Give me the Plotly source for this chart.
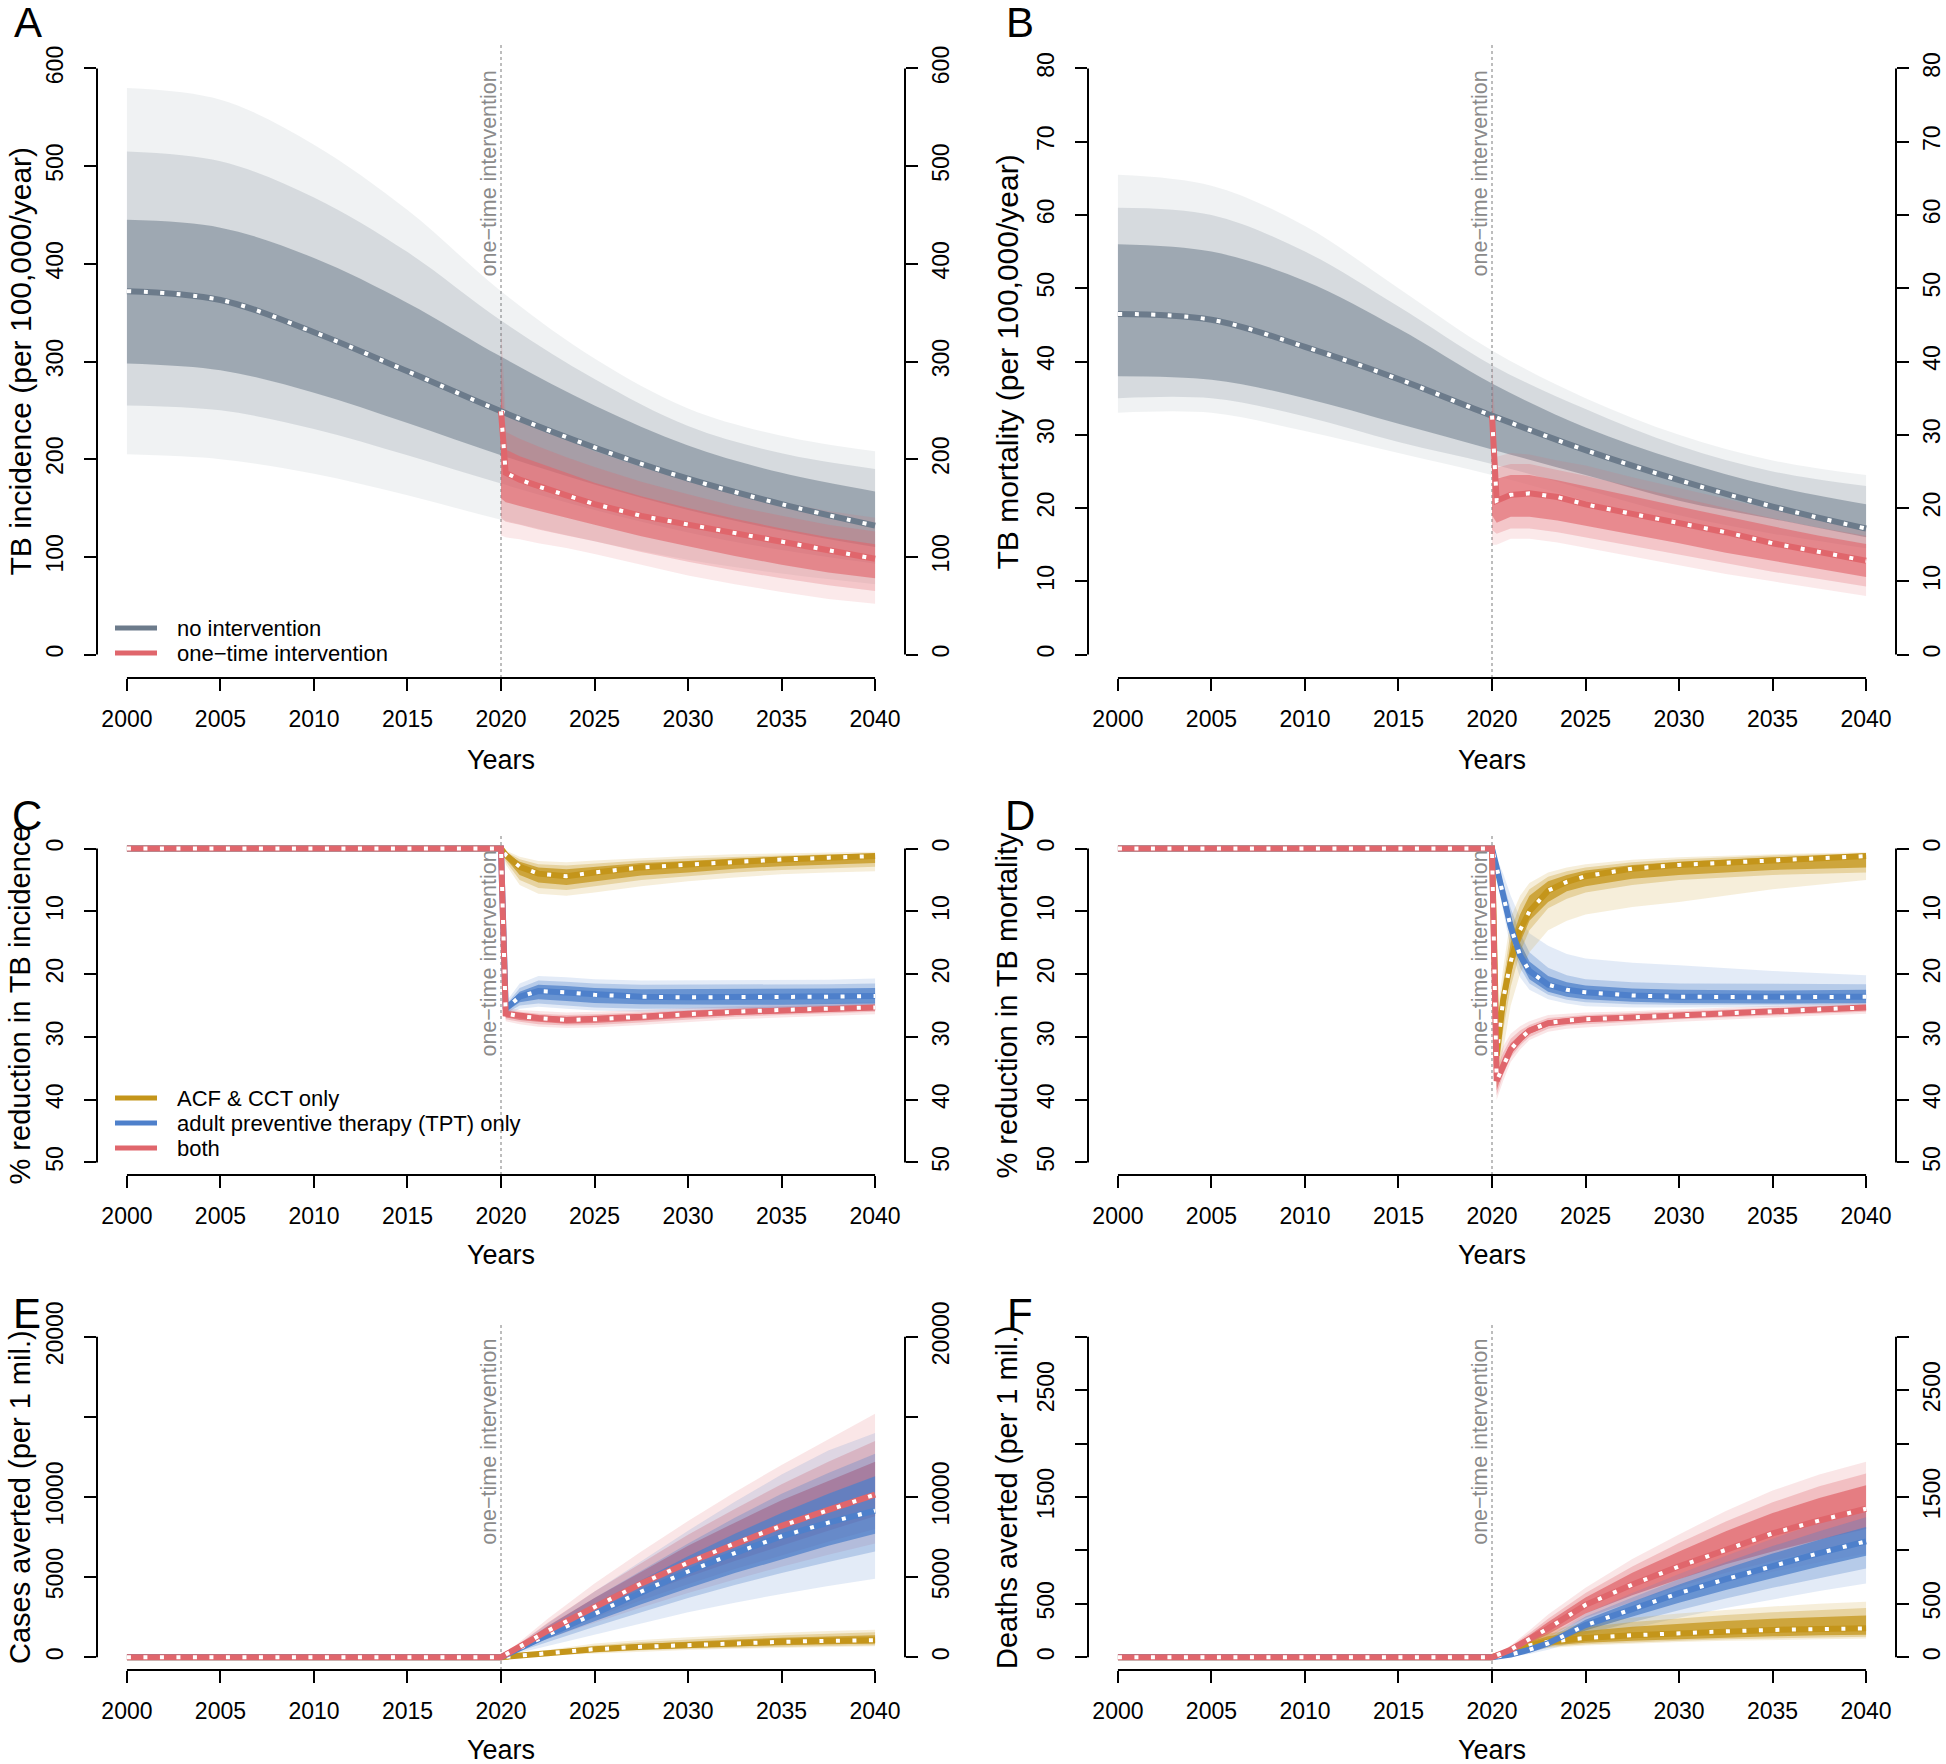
import plotly.graph_objects as go

# ====================== data ======================
X_TICKS = [2000, 2005, 2010, 2015, 2020, 2025, 2030, 2035, 2040]
INTERVENTION_YEAR = 2020
PRE_YEARS = [2000]          # reductions / averted are 0 before the intervention
PRE_VALUES = [0]

# ---------- Panel A: TB incidence (per 100,000/year)
A_BASE_YEARS = [2000, 2005, 2010, 2015, 2020, 2025, 2030, 2035, 2040]
A_BASE_MED = [372, 363, 330, 290, 249, 212, 180, 154, 132]
A_BASE_OUT_LO = [205, 200, 185, 163, 138, 116, 97, 83, 72]
A_BASE_OUT_HI = [580, 568, 522, 455, 372, 303, 252, 224, 208]
A_BASE_MID_LO = [255, 250, 231, 204, 175, 148, 125, 107, 93]
A_BASE_MID_HI = [515, 505, 468, 412, 342, 282, 234, 206, 190]
A_BASE_CORE_LO = [298, 291, 268, 237, 204, 174, 148, 127, 110]
A_BASE_CORE_HI = [445, 437, 406, 360, 305, 255, 214, 186, 167]

A_INT_YEARS = [2020, 2020.25, 2021, 2022, 2023.5, 2025, 2027.5, 2030, 2032.5, 2035, 2037.5, 2040]
A_INT_MED = [249, 186, 179, 172, 163, 154, 142, 133, 124, 115, 106, 98]
A_INT_OUT_LO = [122, 120, 118, 114, 109, 103, 92, 81, 72, 64, 57, 52]
A_INT_OUT_HI = [335, 248, 240, 232, 220, 208, 192, 178, 166, 156, 147, 140]
A_INT_MID_LO = [140, 136, 133, 128, 122, 116, 105, 95, 86, 78, 71, 65]
A_INT_MID_HI = [300, 228, 221, 213, 202, 192, 177, 164, 152, 142, 133, 126]
A_INT_CORE_LO = [160, 156, 152, 147, 140, 133, 121, 111, 101, 92, 84, 78]
A_INT_CORE_HI = [270, 210, 203, 196, 186, 176, 162, 150, 139, 129, 120, 113]

# ---------- Panel B: TB mortality (per 100,000/year)
B_BASE_YEARS = [2000, 2005, 2010, 2015, 2020, 2025, 2030, 2035, 2040]
B_BASE_MED = [46.5, 45.7, 42.0, 37.6, 32.6, 27.9, 23.8, 20.2, 17.2]
B_BASE_OUT_LO = [33, 33, 30.5, 27.5, 24.5, 21, 17.5, 15, 13]
B_BASE_OUT_HI = [65.5, 64, 58.5, 50, 41.5, 35, 30, 26.5, 24.5]
B_BASE_MID_LO = [35, 35, 32.5, 29, 26, 22.5, 19, 16.5, 14.5]
B_BASE_MID_HI = [61, 60, 55, 47.5, 39.5, 33.5, 28.5, 25, 23]
B_BASE_CORE_LO = [38, 37.5, 35, 31.5, 28, 24.5, 21, 18.5, 16]
B_BASE_CORE_HI = [56, 55, 51, 44.5, 37, 31, 26.5, 23, 20.5]

B_INT_YEARS = [2020, 2020.25, 2021, 2022, 2023.5, 2025, 2027.5, 2030, 2032.5, 2035, 2037.5, 2040]
B_INT_MED = [32.6, 21.0, 21.8, 22.0, 21.5, 20.5, 19.2, 18.0, 16.7, 15.2, 14.0, 12.8]
B_INT_OUT_LO = [15, 15, 15.8, 15.8, 15.3, 14.6, 13.4, 12.2, 11.0, 10.0, 9.0, 8.0]
B_INT_OUT_HI = [40.5, 27, 27.5, 27.3, 26.5, 25.8, 24.2, 22.7, 21.2, 19.8, 18.5, 17.5]
B_INT_MID_LO = [17, 16.5, 17.2, 17.2, 16.7, 16.0, 14.8, 13.6, 12.4, 11.3, 10.3, 9.3]
B_INT_MID_HI = [36, 25.5, 26, 26, 25.2, 24.4, 22.9, 21.4, 20.0, 18.6, 17.3, 16.2]
B_INT_CORE_LO = [19, 18.0, 18.8, 18.8, 18.3, 17.6, 16.4, 15.2, 13.9, 12.8, 11.7, 10.6]
B_INT_CORE_HI = [33, 24, 24.5, 24.5, 23.8, 23.0, 21.6, 20.2, 18.8, 17.5, 16.2, 15.1]

# ---------- Panel C: % reduction in TB incidence
C_YEARS = [2020, 2020.25, 2021, 2022, 2023.5, 2025, 2027.5, 2030, 2032.5, 2035, 2037.5, 2040]
C_ACF_MED = [0, 1.0, 2.9, 4.0, 4.4, 3.8, 3.0, 2.55, 2.1, 1.75, 1.45, 1.2]
C_ACF_OUT_LO = [0, 0.3, 1.3, 2.0, 2.2, 1.9, 1.5, 1.2, 0.9, 0.8, 0.6, 0.5]
C_ACF_OUT_HI = [0, 2.5, 5.8, 7.2, 7.5, 7.0, 6.0, 5.2, 4.6, 4.1, 3.8, 3.6]
C_ACF_MID_LO = [0, 0.5, 1.7, 2.5, 2.7, 2.4, 1.9, 1.6, 1.3, 1.1, 0.9, 0.8]
C_ACF_MID_HI = [0, 2.0, 5.0, 6.3, 6.6, 6.0, 5.0, 4.4, 3.8, 3.4, 3.1, 2.9]
C_ACF_CORE_LO = [0, 0.7, 2.1, 3.0, 3.3, 2.9, 2.3, 2.0, 1.6, 1.35, 1.1, 0.95]
C_ACF_CORE_HI = [0, 1.6, 4.2, 5.4, 5.8, 5.2, 4.3, 3.8, 3.2, 2.8, 2.5, 2.3]

C_TPT_MED = [0, 25.5, 23.6, 22.7, 22.9, 23.3, 23.6, 23.7, 23.7, 23.7, 23.6, 23.5]
C_TPT_OUT_LO = [0, 24.5, 21.5, 20.3, 20.5, 20.8, 21.0, 21.0, 21.0, 21.0, 20.9, 20.7]
C_TPT_OUT_HI = [0, 26.8, 25.5, 25.2, 25.5, 25.8, 26.0, 26.0, 26.0, 26.0, 25.9, 25.8]
C_TPT_MID_LO = [0, 25.0, 22.2, 21.0, 21.2, 21.5, 21.7, 21.7, 21.7, 21.7, 21.6, 21.5]
C_TPT_MID_HI = [0, 26.3, 25.0, 24.7, 25.0, 25.3, 25.5, 25.5, 25.5, 25.5, 25.4, 25.3]
C_TPT_CORE_LO = [0, 25.2, 22.8, 21.7, 21.9, 22.2, 22.4, 22.4, 22.4, 22.4, 22.3, 22.2]
C_TPT_CORE_HI = [0, 26.0, 24.5, 24.0, 24.3, 24.6, 24.8, 24.9, 24.9, 24.9, 24.8, 24.7]

C_BOTH_MED = [0, 26.3, 26.7, 27.0, 27.3, 27.2, 26.8, 26.3, 26.0, 25.7, 25.5, 25.3]
C_BOTH_OUT_LO = [0, 25.3, 25.7, 25.9, 26.1, 26.0, 25.7, 25.3, 25.0, 24.8, 24.6, 24.4]
C_BOTH_OUT_HI = [0, 27.5, 28.0, 28.4, 28.6, 28.5, 28.1, 27.6, 27.2, 26.9, 26.6, 26.4]
C_BOTH_MID_LO = [0, 25.6, 26.0, 26.3, 26.5, 26.4, 26.1, 25.7, 25.4, 25.1, 24.9, 24.7]
C_BOTH_MID_HI = [0, 27.2, 27.6, 28.0, 28.2, 28.1, 27.7, 27.2, 26.8, 26.5, 26.2, 26.0]
C_BOTH_CORE_LO = [0, 25.9, 26.3, 26.6, 26.8, 26.7, 26.4, 26.0, 25.7, 25.4, 25.2, 25.0]
C_BOTH_CORE_HI = [0, 26.9, 27.3, 27.6, 27.9, 27.8, 27.4, 26.9, 26.5, 26.2, 25.9, 25.7]

# ---------- Panel D: % reduction in TB mortality
D_YEARS = [2020, 2020.25, 2020.6, 2021, 2021.5, 2022, 2023, 2024, 2025, 2027.5, 2030, 2035, 2040]
D_ACF_MED = [0, 33, 24, 18, 13, 10, 6.7, 5.3, 4.4, 3.2, 2.6, 1.9, 1.2]
D_ACF_OUT_LO = [0, 27, 19, 11, 7.5, 5.5, 3.8, 3.0, 2.5, 1.8, 1.4, 0.9, 0.6]
D_ACF_OUT_HI = [0, 38, 32, 25, 20, 16.5, 13, 11.5, 10.5, 9.3, 8.5, 6.5, 5.0]
D_ACF_MID_LO = [0, 29, 21, 13, 9, 6.5, 4.5, 3.6, 3.0, 2.2, 1.7, 1.1, 0.8]
D_ACF_MID_HI = [0, 37, 29, 22, 16.5, 13, 9.5, 8, 7, 5.8, 5.0, 4.2, 3.8]
D_ACF_CORE_LO = [0, 31, 22.5, 15, 10.5, 7.5, 5.2, 4.2, 3.5, 2.6, 2.1, 1.4, 1.0]
D_ACF_CORE_HI = [0, 36, 27, 20, 15, 11.5, 8.5, 6.8, 6.0, 4.8, 4.2, 3.4, 3.0]

D_TPT_MED = [0, 3.0, 7.5, 12.5, 17, 19.5, 21.7, 22.5, 22.9, 23.4, 23.6, 23.7, 23.6]
D_TPT_OUT_LO = [0, 1.5, 4, 7.5, 11, 13.5, 15.5, 16.8, 17.5, 18.2, 18.6, 19.5, 20.2]
D_TPT_OUT_HI = [0, 4.5, 10, 16, 20.5, 22.5, 24.0, 24.7, 25.1, 25.3, 25.3, 25.3, 25.2]
D_TPT_MID_LO = [0, 2, 5.5, 9.5, 13.5, 16.5, 19, 20.2, 20.8, 21.3, 21.5, 21.6, 21.6]
D_TPT_MID_HI = [0, 4, 9, 14.5, 19, 21.5, 23.3, 24.1, 24.5, 24.8, 24.9, 24.9, 24.8]
D_TPT_CORE_LO = [0, 2.5, 6.5, 11, 15, 18, 20.3, 21.3, 21.8, 22.3, 22.5, 22.6, 22.5]
D_TPT_CORE_HI = [0, 3.5, 8.5, 13.5, 18, 20.8, 22.8, 23.6, 24.0, 24.4, 24.6, 24.7, 24.6]

D_BOTH_MED = [0, 37, 34.5, 32, 30.3, 29.0, 27.8, 27.4, 27.2, 26.9, 26.6, 25.9, 25.3]
D_BOTH_OUT_LO = [0, 34, 31.5, 29.5, 28.3, 27.5, 26.5, 26.3, 26.1, 25.9, 25.6, 25.0, 24.5]
D_BOTH_OUT_HI = [0, 40, 37, 34, 32, 30.5, 29.2, 28.7, 28.5, 28.0, 27.6, 26.9, 26.3]
D_BOTH_MID_LO = [0, 35, 32.5, 30.3, 29, 28.1, 27.0, 26.7, 26.5, 26.2, 25.9, 25.3, 24.8]
D_BOTH_MID_HI = [0, 39.3, 36, 33.3, 31.4, 30, 28.7, 28.2, 28.0, 27.6, 27.2, 26.6, 26.0]
D_BOTH_CORE_LO = [0, 35.8, 33.3, 31, 29.6, 28.5, 27.4, 27.0, 26.8, 26.5, 26.2, 25.6, 25.0]
D_BOTH_CORE_HI = [0, 38.5, 35.3, 32.8, 31.0, 29.5, 28.3, 27.8, 27.6, 27.3, 26.9, 26.3, 25.7]

# ---------- Panel E: cases averted (per 1 mil.)
E_YEARS = [2020, 2022.5, 2025, 2027.5, 2030, 2032.5, 2035, 2037.5, 2040]
E_ACF_MED = [0, 250, 500, 650, 770, 880, 960, 1020, 1060]
E_ACF_OUT_LO = [0, 110, 250, 360, 450, 520, 580, 630, 680]
E_ACF_OUT_HI = [0, 450, 850, 1080, 1250, 1400, 1530, 1640, 1720]
E_ACF_MID_LO = [0, 150, 310, 430, 520, 590, 650, 700, 750]
E_ACF_MID_HI = [0, 380, 730, 950, 1110, 1250, 1370, 1470, 1550]
E_ACF_CORE_LO = [0, 190, 380, 500, 600, 680, 750, 810, 860]
E_ACF_CORE_HI = [0, 320, 640, 830, 980, 1110, 1210, 1300, 1370]

E_TPT_MED = [0, 1400, 2700, 4100, 5350, 6500, 7550, 8400, 9150]
E_TPT_OUT_LO = [0, 700, 1400, 2100, 2800, 3400, 3950, 4450, 4900]
E_TPT_OUT_HI = [0, 2100, 4100, 6000, 7900, 9700, 11400, 12900, 14000]
E_TPT_MID_LO = [0, 950, 1900, 2800, 3700, 4500, 5250, 5950, 6600]
E_TPT_MID_HI = [0, 1900, 3700, 5400, 7100, 8700, 10200, 11500, 12700]
E_TPT_CORE_LO = [0, 1150, 2250, 3300, 4300, 5250, 6100, 6950, 7700]
E_TPT_CORE_HI = [0, 1700, 3300, 4800, 6300, 7700, 9000, 10200, 11300]

E_BOTH_MED = [0, 1650, 3150, 4600, 5900, 7100, 8200, 9200, 10150]
E_BOTH_OUT_LO = [0, 1150, 2150, 3100, 4000, 4850, 5650, 6400, 7100]
E_BOTH_OUT_HI = [0, 2400, 4600, 6600, 8500, 10300, 12000, 13600, 15200]
E_BOTH_MID_LO = [0, 1300, 2450, 3550, 4550, 5500, 6350, 7200, 8000]
E_BOTH_MID_HI = [0, 2150, 4100, 5900, 7650, 9250, 10800, 12200, 13500]
E_BOTH_CORE_LO = [0, 1450, 2700, 3900, 5000, 6000, 6950, 7900, 8800]
E_BOTH_CORE_HI = [0, 1950, 3700, 5350, 6950, 8400, 9800, 11000, 12200]

# ---------- Panel F: deaths averted (per 1 mil.)
F_YEARS = [2020, 2021, 2022, 2023, 2025, 2027.5, 2030, 2032.5, 2035, 2037.5, 2040]
F_ACF_MED = [0, 55, 110, 145, 180, 205, 225, 242, 255, 263, 270]
F_ACF_OUT_LO = [0, 30, 60, 85, 110, 128, 142, 153, 162, 170, 176]
F_ACF_OUT_HI = [0, 100, 190, 250, 320, 370, 410, 445, 475, 500, 520]
F_ACF_MID_LO = [0, 35, 70, 98, 122, 140, 155, 167, 177, 185, 192]
F_ACF_MID_HI = [0, 85, 165, 220, 280, 330, 365, 395, 420, 440, 460]
F_ACF_CORE_LO = [0, 40, 80, 110, 135, 155, 170, 185, 195, 205, 210]
F_ACF_CORE_HI = [0, 75, 145, 195, 245, 285, 315, 340, 360, 375, 390]

F_TPT_MED = [0, 25, 70, 130, 300, 450, 600, 730, 855, 975, 1085]
F_TPT_OUT_LO = [0, 8, 30, 70, 170, 270, 370, 460, 540, 620, 690]
F_TPT_OUT_HI = [0, 45, 110, 190, 410, 600, 780, 950, 1110, 1260, 1400]
F_TPT_MID_LO = [0, 12, 42, 90, 215, 330, 440, 550, 650, 740, 830]
F_TPT_MID_HI = [0, 40, 100, 170, 380, 560, 730, 890, 1040, 1180, 1310]
F_TPT_CORE_LO = [0, 18, 55, 105, 250, 380, 510, 630, 740, 850, 950]
F_TPT_CORE_HI = [0, 35, 88, 155, 350, 520, 680, 830, 970, 1100, 1220]

F_BOTH_MED = [0, 70, 165, 270, 490, 680, 850, 1010, 1160, 1280, 1390]
F_BOTH_OUT_LO = [0, 35, 95, 165, 320, 460, 590, 700, 800, 890, 970]
F_BOTH_OUT_HI = [0, 110, 250, 400, 650, 920, 1150, 1370, 1560, 1710, 1830]
F_BOTH_MID_LO = [0, 45, 115, 190, 370, 520, 660, 790, 900, 1000, 1090]
F_BOTH_MID_HI = [0, 100, 225, 360, 600, 850, 1070, 1270, 1450, 1600, 1720]
F_BOTH_CORE_LO = [0, 55, 130, 215, 410, 580, 730, 870, 990, 1100, 1200]
F_BOTH_CORE_HI = [0, 90, 205, 330, 560, 790, 990, 1180, 1350, 1490, 1610]

# ticks / labels
A_YTICKS = [0, 100, 200, 300, 400, 500, 600]
B_YTICKS = [0, 10, 20, 30, 40, 50, 60, 70, 80]
CD_YTICKS = [0, 10, 20, 30, 40, 50]
E_YTICKS = [0, 5000, 10000, 15000, 20000]
E_YLABELS = ["0", "5000", "10000", "", "20000"]
F_YTICKS = [0, 500, 1000, 1500, 2000, 2500, 3000]
F_YLABELS = ["0", "500", "", "1500", "", "2500", ""]

LEGEND_AB = ["no intervention", "one\u2212time intervention"]
LEGEND_CD = ["ACF & CCT only", "adult preventive therapy (TPT) only", "both"]
INTERVENTION_LABEL = "one\u2212time intervention"

# ====================== styling ======================
W, H = 1946, 1764
FONT = "Liberation Sans, Arial, Helvetica, sans-serif"
GRAY = (108, 123, 139)
RED = (224, 102, 108)
BLUE = (78, 128, 203)
GOLD = (196, 149, 26)
ALPHAS_AB = {GRAY: (0.10, 0.20, 0.52), RED: (0.14, 0.26, 0.62)}
ALPHAS_CF = (0.16, 0.30, 0.74)

COL_X = [(97, 905), (1088, 1896)]
ROW_Y = [(45, 678), (836, 1175), (1324, 1670)]


def rgba(c, a):
    return f"rgba({c[0]},{c[1]},{c[2]},{a})"


def rgb(c):
    return f"rgb({c[0]},{c[1]},{c[2]})"


def group(color, years, med, bands, shape="linear", lead=True):
    return dict(color=color, years=years, med=med, bands=bands, shape=shape, lead=lead)


PANELS = [
    dict(letter="A", col=0, row=0, ylim=(0, 600), yticks=A_YTICKS, ylabels=None, rev=False,
         ytitle="TB incidence (per 100,000/year)", tsize=30,
         bands_order=[0, 1], med_order=[0, 1],
         groups=[
             group(GRAY, A_BASE_YEARS, A_BASE_MED,
                   [(A_BASE_OUT_LO, A_BASE_OUT_HI), (A_BASE_MID_LO, A_BASE_MID_HI), (A_BASE_CORE_LO, A_BASE_CORE_HI)],
                   shape="spline", lead=False),
             group(RED, A_INT_YEARS, A_INT_MED,
                   [(A_INT_OUT_LO, A_INT_OUT_HI), (A_INT_MID_LO, A_INT_MID_HI), (A_INT_CORE_LO, A_INT_CORE_HI)],
                   lead=False),
         ]),
    dict(letter="B", col=1, row=0, ylim=(0, 80), yticks=B_YTICKS, ylabels=None, rev=False,
         ytitle="TB mortality (per 100,000/year)", tsize=30,
         bands_order=[0, 1], med_order=[0, 1],
         groups=[
             group(GRAY, B_BASE_YEARS, B_BASE_MED,
                   [(B_BASE_OUT_LO, B_BASE_OUT_HI), (B_BASE_MID_LO, B_BASE_MID_HI), (B_BASE_CORE_LO, B_BASE_CORE_HI)],
                   shape="spline", lead=False),
             group(RED, B_INT_YEARS, B_INT_MED,
                   [(B_INT_OUT_LO, B_INT_OUT_HI), (B_INT_MID_LO, B_INT_MID_HI), (B_INT_CORE_LO, B_INT_CORE_HI)],
                   lead=False),
         ]),
    dict(letter="C", col=0, row=1, ylim=(0, 50), yticks=CD_YTICKS, ylabels=None, rev=True,
         ytitle="% reduction in TB incidence", tsize=29,
         bands_order=[2, 1, 0], med_order=[0, 1, 2],
         groups=[
             group(GOLD, C_YEARS, C_ACF_MED, [(C_ACF_OUT_LO, C_ACF_OUT_HI), (C_ACF_MID_LO, C_ACF_MID_HI), (C_ACF_CORE_LO, C_ACF_CORE_HI)]),
             group(BLUE, C_YEARS, C_TPT_MED, [(C_TPT_OUT_LO, C_TPT_OUT_HI), (C_TPT_MID_LO, C_TPT_MID_HI), (C_TPT_CORE_LO, C_TPT_CORE_HI)]),
             group(RED, C_YEARS, C_BOTH_MED, [(C_BOTH_OUT_LO, C_BOTH_OUT_HI), (C_BOTH_MID_LO, C_BOTH_MID_HI), (C_BOTH_CORE_LO, C_BOTH_CORE_HI)]),
         ]),
    dict(letter="D", col=1, row=1, ylim=(0, 50), yticks=CD_YTICKS, ylabels=None, rev=True,
         ytitle="% reduction in TB mortality", tsize=29,
         bands_order=[2, 1, 0], med_order=[0, 1, 2],
         groups=[
             group(GOLD, D_YEARS, D_ACF_MED, [(D_ACF_OUT_LO, D_ACF_OUT_HI), (D_ACF_MID_LO, D_ACF_MID_HI), (D_ACF_CORE_LO, D_ACF_CORE_HI)]),
             group(BLUE, D_YEARS, D_TPT_MED, [(D_TPT_OUT_LO, D_TPT_OUT_HI), (D_TPT_MID_LO, D_TPT_MID_HI), (D_TPT_CORE_LO, D_TPT_CORE_HI)]),
             group(RED, D_YEARS, D_BOTH_MED, [(D_BOTH_OUT_LO, D_BOTH_OUT_HI), (D_BOTH_MID_LO, D_BOTH_MID_HI), (D_BOTH_CORE_LO, D_BOTH_CORE_HI)]),
         ]),
    dict(letter="E", col=0, row=2, ylim=(0, 20000), yticks=E_YTICKS, ylabels=E_YLABELS, rev=False,
         ytitle="Cases averted (per 1 mil.)", tsize=29,
         bands_order=[2, 1, 0], med_order=[0, 1, 2],
         groups=[
             group(GOLD, E_YEARS, E_ACF_MED, [(E_ACF_OUT_LO, E_ACF_OUT_HI), (E_ACF_MID_LO, E_ACF_MID_HI), (E_ACF_CORE_LO, E_ACF_CORE_HI)]),
             group(BLUE, E_YEARS, E_TPT_MED, [(E_TPT_OUT_LO, E_TPT_OUT_HI), (E_TPT_MID_LO, E_TPT_MID_HI), (E_TPT_CORE_LO, E_TPT_CORE_HI)]),
             group(RED, E_YEARS, E_BOTH_MED, [(E_BOTH_OUT_LO, E_BOTH_OUT_HI), (E_BOTH_MID_LO, E_BOTH_MID_HI), (E_BOTH_CORE_LO, E_BOTH_CORE_HI)]),
         ]),
    dict(letter="F", col=1, row=2, ylim=(0, 3000), yticks=F_YTICKS, ylabels=F_YLABELS, rev=False,
         ytitle="Deaths averted (per 1 mil.)", tsize=29,
         bands_order=[2, 1, 0], med_order=[0, 1, 2],
         groups=[
             group(GOLD, F_YEARS, F_ACF_MED, [(F_ACF_OUT_LO, F_ACF_OUT_HI), (F_ACF_MID_LO, F_ACF_MID_HI), (F_ACF_CORE_LO, F_ACF_CORE_HI)]),
             group(BLUE, F_YEARS, F_TPT_MED, [(F_TPT_OUT_LO, F_TPT_OUT_HI), (F_TPT_MID_LO, F_TPT_MID_HI), (F_TPT_CORE_LO, F_TPT_CORE_HI)]),
             group(RED, F_YEARS, F_BOTH_MED, [(F_BOTH_OUT_LO, F_BOTH_OUT_HI), (F_BOTH_MID_LO, F_BOTH_MID_HI), (F_BOTH_CORE_LO, F_BOTH_CORE_HI)]),
         ]),
]

LETTER_POS = {"A": (28, 22), "B": (1020, 22), "C": (27, 815), "D": (1020, 815), "E": (27, 1313), "F": (1020, 1313)}
YTITLE_X = [20, 1007]
XTITLE_Y = [760, 1255, 1750]

fig = go.Figure()
layout = dict(width=W, height=H, autosize=False,
              margin=dict(l=0, r=0, t=0, b=0, pad=0, autoexpand=False),
              paper_bgcolor="white", plot_bgcolor="white", showlegend=False,
              font=dict(family=FONT, color="black"))
shapes, annotations = [], []


def ann(text, x, y, size, xanchor="center", yanchor="middle", angle=0, color="black"):
    return dict(text=text, x=x / W, y=1 - y / H, xref="paper", yref="paper", showarrow=False,
                font=dict(size=size, color=color, family=FONT), xanchor=xanchor, yanchor=yanchor,
                textangle=angle)


for i, p in enumerate(PANELS, start=1):
    sfx = "" if i == 1 else str(i)
    xr, yr = "x" + sfx, "y" + sfx
    x0, x1 = COL_X[p["col"]]
    y0, y1 = ROW_Y[p["row"]]
    ymin, ymax = p["ylim"]
    ext = 0.04 * (ymax - ymin)
    rng = [ymax + ext, ymin - ext] if p["rev"] else [ymin - ext, ymax + ext]
    ticktext = p["ylabels"] if p["ylabels"] else [str(v) for v in p["yticks"]]
    tickfont = dict(size=23, color="black", family=FONT)
    common_y = dict(range=rng, tickmode="array", tickvals=p["yticks"], ticktext=ticktext,
                    ticks="outside", ticklen=12, tickwidth=2, tickcolor="black",
                    showline=False, showgrid=False, zeroline=False, tickangle=-90,
                    tickfont=tickfont, fixedrange=True, automargin=False)
    layout["xaxis" + sfx] = dict(domain=[x0 / W, x1 / W], range=[1998.4, 2041.6], anchor=yr,
                                 tickmode="array", tickvals=X_TICKS, ticks="outside", ticklen=12,
                                 tickwidth=2, tickcolor="black", showline=False, showgrid=False,
                                 zeroline=False, tickfont=tickfont, ticklabelstandoff=8,
                                 fixedrange=True, automargin=False)
    layout["yaxis" + sfx] = dict(domain=[1 - y1 / H, 1 - y0 / H], anchor=xr, side="left",
                                 ticklabelstandoff=12, **common_y)
    ridx = str(i + 6)
    layout["yaxis" + ridx] = dict(overlaying=yr, anchor=xr, side="right", ticklabelstandoff=3, **common_y)

    # bands (spaghetti envelopes)
    for gi in p["bands_order"]:
        g = p["groups"][gi]
        alphas = ALPHAS_AB[g["color"]] if p["row"] == 0 else ALPHAS_CF
        for (lo, hi), a in zip(g["bands"], alphas):
            fig.add_trace(go.Scatter(x=g["years"], y=lo, mode="lines", xaxis=xr, yaxis=yr,
                                     line=dict(width=0, shape=g["shape"]), hoverinfo="skip"))
            fig.add_trace(go.Scatter(x=g["years"], y=hi, mode="lines", xaxis=xr, yaxis=yr,
                                     line=dict(width=0, shape=g["shape"]), fill="tonexty",
                                     fillcolor=rgba(g["color"], a), hoverinfo="skip"))
    # medians: coloured line with white dots on top
    for gi in p["med_order"]:
        g = p["groups"][gi]
        xs = (PRE_YEARS + g["years"]) if g["lead"] else g["years"]
        ys = (PRE_VALUES + g["med"]) if g["lead"] else g["med"]
        fig.add_trace(go.Scatter(x=xs, y=ys, mode="lines", xaxis=xr, yaxis=yr,
                                 line=dict(width=6, color=rgb(g["color"]), shape=g["shape"]),
                                 hoverinfo="skip"))
        fig.add_trace(go.Scatter(x=xs, y=ys, mode="lines", xaxis=xr, yaxis=yr,
                                 line=dict(width=4, color="white", shape=g["shape"], dash="4px,12.5px"),
                                 hoverinfo="skip"))
    # invisible trace so the right-hand axis is drawn
    fig.add_trace(go.Scatter(x=[X_TICKS[0]], y=[p["yticks"][0]], mode="markers", xaxis=xr,
                             yaxis="y" + ridx, marker=dict(opacity=0, size=1), hoverinfo="skip"))

    # axis lines (R style, detached)
    shapes.append(dict(type="line", xref=xr, yref=yr + " domain", x0=X_TICKS[0], x1=X_TICKS[-1],
                       y0=0, y1=0, line=dict(color="black", width=2)))
    for xd in (0, 1):
        shapes.append(dict(type="line", xref=xr + " domain", yref=yr, x0=xd, x1=xd,
                           y0=p["yticks"][0], y1=p["yticks"][-1], line=dict(color="black", width=2)))
    # intervention marker
    shapes.append(dict(type="line", xref=xr, yref=yr + " domain", x0=INTERVENTION_YEAR,
                       x1=INTERVENTION_YEAR, y0=0, y1=1, layer="below",
                       line=dict(color="#a8a8a8", width=1.5, dash="dot")))
    annotations.append(dict(text=INTERVENTION_LABEL, xref=xr, yref=yr, x=INTERVENTION_YEAR,
                            y=(ymin if p["rev"] else ymax), xanchor="center", yanchor="top",
                            xshift=-12, textangle=-90, showarrow=False,
                            font=dict(size=21.5, color="#8a8a8a", family=FONT)))
    # titles
    lx, ly = LETTER_POS[p["letter"]]
    annotations.append(ann(p["letter"], lx, ly, 42))
    annotations.append(ann(p["ytitle"], YTITLE_X[p["col"]], (y0 + y1) / 2, p["tsize"], angle=-90))
    annotations.append(ann("Years", (x0 + x1) / 2, XTITLE_Y[p["row"]], 27))

# legends
for k, (txt, col) in enumerate(zip(LEGEND_AB, [GRAY, RED])):
    yy = 628 + 25 * k
    shapes.append(dict(type="line", xref="paper", yref="paper", x0=115 / W, x1=157 / W,
                       y0=1 - yy / H, y1=1 - yy / H, line=dict(color=rgb(col), width=5)))
    annotations.append(ann(txt, 175, yy, 22, xanchor="left"))
for k, (txt, col) in enumerate(zip(LEGEND_CD, [GOLD, BLUE, RED])):
    yy = 1098 + 25 * k
    shapes.append(dict(type="line", xref="paper", yref="paper", x0=115 / W, x1=157 / W,
                       y0=1 - yy / H, y1=1 - yy / H, line=dict(color=rgb(col), width=5)))
    annotations.append(ann(txt, 175, yy, 22, xanchor="left"))

layout["shapes"] = shapes
layout["annotations"] = annotations
fig.update_layout(**layout)
fig.update_traces(showlegend=False)

POST = ("var gd=document.getElementById('{plot_id}');"
        "document.body.style.margin='0px';document.body.style.padding='0px';"
        "gd.style.position='absolute';gd.style.top='0px';gd.style.left='0px';")
fig.write_html("out.html", config={"displayModeBar": False}, post_script=POST)
